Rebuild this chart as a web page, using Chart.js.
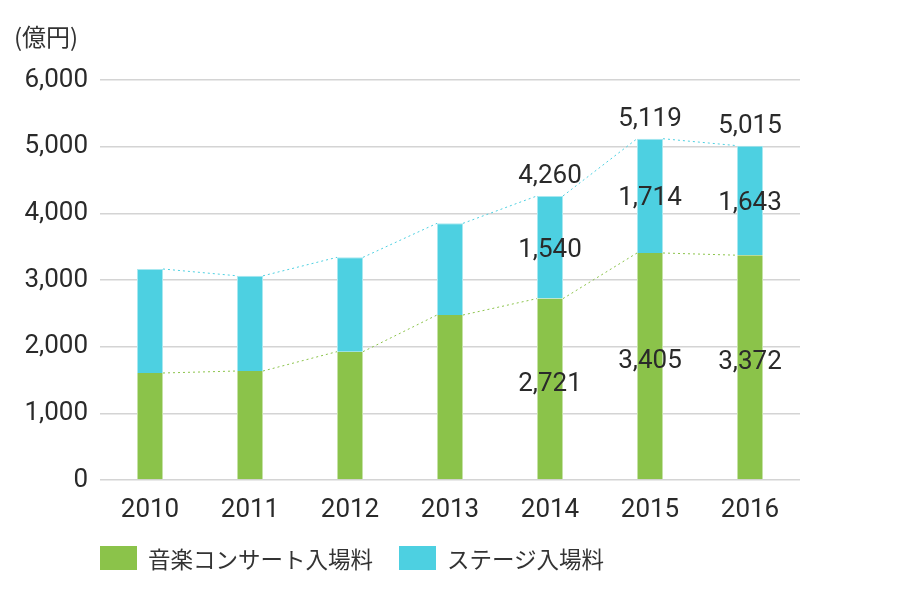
<!DOCTYPE html>
<html>
<head>
<meta charset="utf-8">
<script src="https://cdn.jsdelivr.net/npm/chart.js@4"></script>
<style>
  body { margin: 0; background: #fff; }
  #wrap { position: relative; width: 900px; height: 600px; }
  #unit { position: absolute; left: 14px; top: 24px; font: 24px/1 "Noto Sans CJK JP", sans-serif; color: #333; }
  #legend { position: absolute; left: 100px; top: 542px; display: flex; align-items: center;
            font: 22.5px "Noto Sans CJK JP", sans-serif; color: #333; }
  #legend .box { width: 37px; height: 24px; margin-right: 11px; }
  #legend .item { display: flex; align-items: center; margin-right: 26px; }
</style>
</head>
<body>
<div id="wrap">
  <canvas id="chart" width="900" height="600"></canvas>
  <div id="unit">(億円)</div>
  <div id="legend"></div>
</div>
<script>
const years = ['2010', '2011', '2012', '2013', '2014', '2015', '2016'];
const concert = [1605, 1635, 1925, 2475, 2721, 3405, 3372];
const stage = [1560, 1428, 1415, 1375, 1540, 1714, 1643];
// totals printed above the bars (only the last three years are labelled)
const totals = [null, null, null, null, 4260, 5119, 5015];
const yTicks = [0, 1000, 2000, 3000, 4000, 5000, 6000];

const green = '#8bc34a';
const cyan = '#4dd0e1';
const numFont = 'Roboto';

function fmt(v) {
  return v.toLocaleString('en-US');
}

// dotted lines between the tops of neighbouring bars
const connectors = {
  id: 'connectors',
  beforeDatasetsDraw(chart) {
    const ctx = chart.ctx;
    const colors = [green, cyan];
    ctx.save();
    ctx.lineWidth = 1;
    ctx.setLineDash([2, 3]);
    chart.data.datasets.forEach((ds, i) => {
      const bars = chart.getDatasetMeta(i).data;
      ctx.strokeStyle = colors[i];
      ctx.beginPath();
      for (let j = 0; j < bars.length - 1; j++) {
        const a = bars[j], b = bars[j + 1];
        ctx.moveTo(a.x + a.width / 2, a.y);
        ctx.lineTo(b.x - b.width / 2, b.y);
      }
      ctx.stroke();
    });
    ctx.restore();
  }
};

const valueLabels = {
  id: 'valueLabels',
  afterDatasetsDraw(chart) {
    const ctx = chart.ctx;
    const g = chart.getDatasetMeta(0).data;
    const c = chart.getDatasetMeta(1).data;
    const base = chart.scales.y.getPixelForValue(0);
    ctx.save();
    ctx.font = '26px ' + numFont;
    ctx.fillStyle = '#2a2a2a';
    ctx.textAlign = 'center';
    ctx.textBaseline = 'middle';
    totals.forEach((t, i) => {
      if (t == null) return;
      const x = g[i].x;
      ctx.fillText(fmt(concert[i]), x, (g[i].y + base) / 2 - 5);
      ctx.fillText(fmt(stage[i]), x, (c[i].y + g[i].y) / 2 + 3);
      ctx.fillText(fmt(t), x, c[i].y - 19);
    });
    ctx.restore();
  }
};

const chart = new Chart(document.getElementById('chart'), {
  type: 'bar',
  data: {
    labels: years,
    datasets: [
      { label: '音楽コンサート入場料', data: concert, backgroundColor: green, borderColor: '#c5e2a5', borderWidth: { left: 1, right: 1 }, borderSkipped: false },
      { label: 'ステージ入場料', data: stage, backgroundColor: cyan, borderColor: '#a8e8f0', borderWidth: { left: 1, right: 1, top: 1 }, borderSkipped: false }
    ]
  },
  options: {
    responsive: false,
    animation: false,
    layout: { padding: { left: 0, right: 100, top: 80, bottom: 75 } },
    datasets: { bar: { categoryPercentage: 1, barPercentage: 0.26 } },
    plugins: { legend: { display: false }, tooltip: { enabled: false } },
    scales: {
      x: {
        stacked: true,
        grid: { display: false },
        border: { display: false },
        ticks: { color: '#2a2a2a', font: { family: numFont, size: 26 }, padding: 7 },
        afterFit(s) { s.height = 45; }
      },
      y: {
        stacked: true,
        min: 0,
        max: 6000,
        afterBuildTicks(s) { s.ticks = yTicks.map(v => ({ value: v })); },
        grid: { color: '#d4d4d4', lineWidth: 1.5, drawTicks: false },
        border: { display: false },
        ticks: { color: '#2a2a2a', font: { family: numFont, size: 26 }, padding: 12, callback: v => fmt(v) },
        afterFit(s) { s.width = 100; }
      }
    }
  },
  plugins: [connectors, valueLabels]
});

const legend = document.getElementById('legend');
chart.data.datasets.forEach(ds => {
  const item = document.createElement('div');
  item.className = 'item';
  const box = document.createElement('span');
  box.className = 'box';
  box.style.background = ds.backgroundColor;
  const txt = document.createElement('span');
  txt.textContent = ds.label;
  item.appendChild(box);
  item.appendChild(txt);
  legend.appendChild(item);
});
</script>
</body>
</html>
